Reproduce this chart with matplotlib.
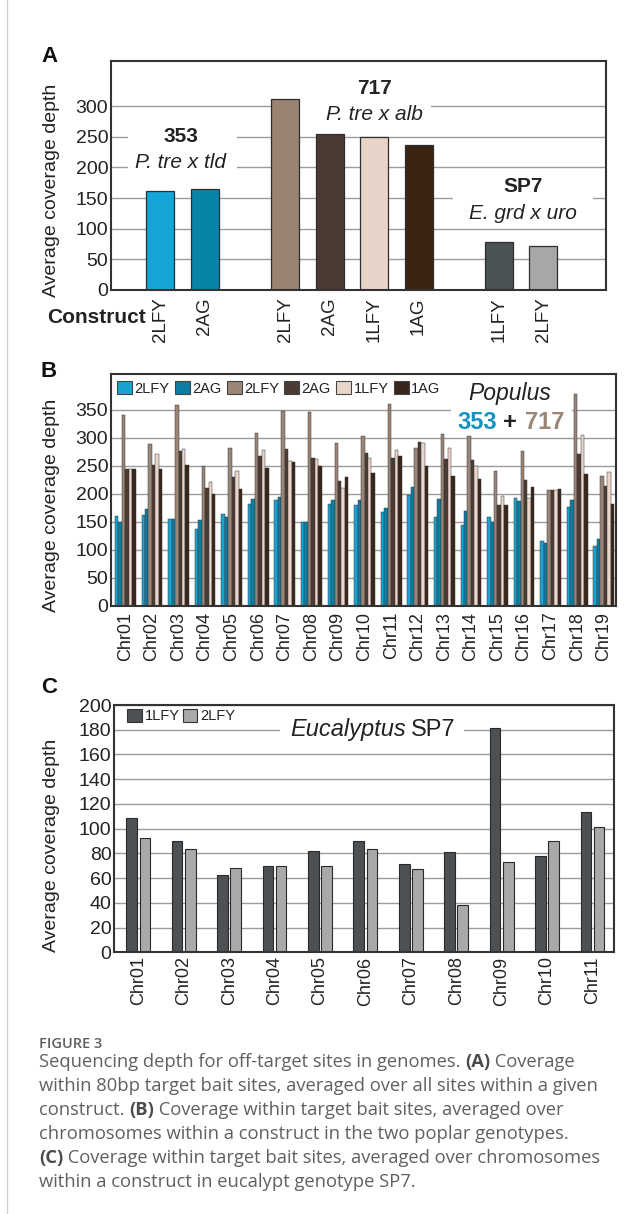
import numpy as np
import matplotlib
matplotlib.use('Agg')
from matplotlib import pyplot as plt
from matplotlib.patches import Patch, Rectangle

plt.rcParams['font.family'] = ['Liberation Sans', 'DejaVu Sans']

# ---- panel A: average depth per construct ----
a_groups = ['353', '353', '717', '717', '717', '717', 'SP7', 'SP7']
a_constructs = ['2LFY', '2AG', '2LFY', '2AG', '1LFY', '1AG', '1LFY', '2LFY']
a_depth = [161, 164, 312, 254, 249, 236, 78, 72]
a_colors = ['#14a6d6', '#0884a8', '#9a8373', '#4a3a31', '#e8d3c9', '#3a2414',
            '#4b5254', '#a7a7aa']

# ---- panel B: Populus, per chromosome ----
b_chroms = ['Chr%02d' % i for i in range(1, 20)]
b_labels = ['2LFY', '2AG', '2LFY', '2AG', '1LFY', '1AG']
b_353_2lfy = [160, 162, 155, 136, 163, 182, 189, 150, 181, 180, 168, 197, 158, 144, 158, 193, 115, 177, 107]
b_353_2ag = [150, 173, 154, 153, 159, 191, 194, 149, 188, 188, 174, 212, 191, 169, 149, 187, 112, 189, 119]
b_717_2lfy = [340, 289, 358, 250, 282, 308, 347, 346, 290, 304, 361, 281, 306, 303, 241, 277, 207, 379, 231]
b_717_2ag = [244, 252, 277, 210, 230, 268, 280, 264, 223, 272, 264, 293, 262, 260, 179, 224, 206, 271, 213]
b_717_1lfy = [245, 271, 280, 220, 241, 278, 259, 262, 210, 264, 278, 290, 281, 249, 196, 193, 207, 305, 238]
b_717_1ag = [244, 245, 252, 200, 208, 246, 257, 250, 229, 237, 268, 250, 231, 226, 179, 212, 209, 235, 182]
b_colors = ['#1aa3d1', '#0b7fa3', '#9a8577', '#4b3c33', '#ead5ca', '#38261a']

# ---- panel C: Eucalyptus SP7 ----
c_chroms = ['Chr%02d' % i for i in range(1, 12)]
c_1lfy = [109, 90, 62.5, 70, 82, 90, 71.5, 81, 181, 77.5, 113.5]
c_2lfy = [92.5, 83.5, 68.5, 70, 70, 83.5, 67, 38.5, 73, 90, 101.5]
c_colors = ['#4d5154', '#a9a9ac']

W, H = 644, 1214
GRID = '#9c9c9c'
SPINE = '#333333'


def px_axes(left, top, right, bottom):
    return fig.add_axes([left / W, 1 - bottom / H, (right - left) / W, (bottom - top) / H])


def style_axes(ax):
    ax.set_axisbelow(True)
    ax.yaxis.grid(True, color=GRID, linewidth=1.0)
    for s in ax.spines.values():
        s.set_color(SPINE)
        s.set_linewidth(1.5)
    ax.tick_params(axis='both', length=0, labelsize=14, colors='#222222')
    ax.tick_params(axis='y', pad=2)


def white_box(ax, x0, y0, x1, y1):
    ax.add_patch(Rectangle((x0, y0), x1 - x0, y1 - y0, transform=ax.transAxes,
                           facecolor='white', edgecolor='none', zorder=1))


fig = plt.figure(figsize=(W / 100, H / 100), dpi=100)
fig.add_artist(plt.Line2D([6.5 / W, 6.5 / W], [0, 1], color='#d2d2d2', linewidth=1.0))

# ================= A =================
ax = px_axes(111, 60.7, 606, 290)
style_axes(ax)
pos = []
x = 0.0
for i, g in enumerate(a_groups):
    if i > 0:
        x += 1.0 if g == a_groups[i - 1] else 1.8
    pos.append(x)
ax.bar(pos, a_depth, 0.63, color=a_colors, edgecolor='#2e2e2e', linewidth=0.9, zorder=2)
ax.set_xlim(-1.11, 10.01)
ax.set_ylim(0, 374)
ax.set_yticks(range(0, 301, 50))
ax.set_xticks(pos)
ax.set_xticklabels(a_constructs, rotation=90, fontsize=13.5)
ax.tick_params(axis='x', pad=5.5)
ax.set_ylabel('Average coverage depth', fontsize=14, color='#222222')
ax.yaxis.set_label_coords(-0.104, 0.434)
ax.text(0.0707, -0.118, 'Construct', transform=ax.transAxes, ha='right', va='center',
        fontsize=15, fontweight='bold', color='#222222')

white_box(ax, 0.034, 0.480, 0.255, 0.741)
white_box(ax, 0.382, 0.720, 0.646, 0.829)
white_box(ax, 0.691, 0.283, 0.974, 0.515)
ax.text(0.141, 0.644, '353', transform=ax.transAxes, ha='center', va='baseline',
        fontsize=15, fontweight='bold', color='#222222', zorder=3)
ax.text(0.141, 0.533, 'P. tre x tld', transform=ax.transAxes, ha='center', va='baseline',
        fontsize=15, style='italic', color='#222222', zorder=3)
ax.text(0.533, 0.855, '717', transform=ax.transAxes, ha='center', va='baseline',
        fontsize=15, fontweight='bold', color='#222222', zorder=3)
ax.text(0.533, 0.741, 'P. tre x alb', transform=ax.transAxes, ha='center', va='baseline',
        fontsize=15, style='italic', color='#222222', zorder=3)
ax.text(0.832, 0.426, 'SP7', transform=ax.transAxes, ha='center', va='baseline',
        fontsize=15, fontweight='bold', color='#222222', zorder=3)
ax.text(0.832, 0.310, 'E. grd x uro', transform=ax.transAxes, ha='center', va='baseline',
        fontsize=15, style='italic', color='#222222', zorder=3)

# ================= B =================
ax = px_axes(111, 374, 616, 605.5)
style_axes(ax)
xb = np.arange(len(b_chroms))
w = 0.13
b_vals = [b_353_2lfy, b_353_2ag, b_717_2lfy, b_717_2ag, b_717_1lfy, b_717_1ag]
for k, (vals, col) in enumerate(zip(b_vals, b_colors)):
    ax.bar(xb + (k - 2.5) * w, vals, w, color=col, edgecolor='#3a3a3a', linewidth=0.35, zorder=2)
ax.set_xlim(-0.54, len(b_chroms) - 0.54)
ax.set_ylim(0, 414)
ax.set_yticks(range(0, 351, 50))
ax.set_xticks(xb)
ax.set_xticklabels(b_chroms, rotation=90, fontsize=13)
ax.tick_params(axis='x', pad=4.5)
ax.set_ylabel('Average coverage depth', fontsize=14, color='#222222')
ax.yaxis.set_label_coords(-0.1016, 0.434)
handles = [Patch(facecolor=c, edgecolor='#444444', linewidth=0.8) for c in b_colors]
leg = ax.legend(handles, b_labels, ncol=6, loc='upper left', bbox_to_anchor=(0.012, 0.97),
                frameon=False, fontsize=10.5, handlelength=1.05, handleheight=1.05,
                handletextpad=0.15, columnspacing=0.35, borderpad=0, borderaxespad=0)
for t in leg.get_texts():
    t.set_color('#222222')
white_box(ax, 0.673, 0.749, 0.913, 0.888)
ax.text(0.790, 0.888, 'Populus', transform=ax.transAxes, ha='center', va='baseline',
        fontsize=16.5, style='italic', color='#222222', zorder=3)
ax.text(0.764, 0.762, '353', transform=ax.transAxes, ha='right', va='baseline',
        fontsize=17, fontweight='bold', color='#1592bd', zorder=3)
ax.text(0.790, 0.762, '+', transform=ax.transAxes, ha='center', va='baseline',
        fontsize=17, fontweight='bold', color='#222222', zorder=3)
ax.text(0.820, 0.762, '717', transform=ax.transAxes, ha='left', va='baseline',
        fontsize=17, fontweight='bold', color='#9a8577', zorder=3)

# ================= C =================
ax = px_axes(114.4, 705, 614, 952.3)
style_axes(ax)
xc = np.arange(len(c_chroms))
ax.bar(xc - 0.145, c_1lfy, 0.236, color=c_colors[0], edgecolor='#2a2a2a', linewidth=0.8, zorder=2)
ax.bar(xc + 0.145, c_2lfy, 0.236, color=c_colors[1], edgecolor='#2a2a2a', linewidth=0.8, zorder=2)
ax.set_xlim(-0.526, len(c_chroms) - 0.526)
ax.set_ylim(0, 200)
ax.set_yticks(range(0, 201, 20))
ax.set_xticks(xc)
ax.set_xticklabels(c_chroms, rotation=90, fontsize=13)
ax.tick_params(axis='x', pad=3)
ax.set_ylabel('Average coverage depth', fontsize=14, color='#222222')
ax.yaxis.set_label_coords(-0.1095, 0.434)
handles = [Patch(facecolor=c, edgecolor='#333333', linewidth=0.8) for c in c_colors]
leg = ax.legend(handles, ['1LFY', '2LFY'], ncol=2, loc='upper left', bbox_to_anchor=(0.026, 0.984),
                frameon=False, fontsize=10.5, handlelength=1.0, handleheight=1.0,
                handletextpad=0.2, columnspacing=0.2, borderpad=0, borderaxespad=0)
for t in leg.get_texts():
    t.set_color('#222222')
white_box(ax, 0.331, 0.850, 0.700, 0.948)
ax.text(0.583, 0.876, 'Eucalyptus', transform=ax.transAxes, ha='right', va='baseline',
        fontsize=17, style='italic', color='#222222', zorder=3)
ax.text(0.593, 0.876, 'SP7', transform=ax.transAxes, ha='left', va='baseline',
        fontsize=17, color='#222222', zorder=3)

# panel letters
for letter, base in [('A', 62), ('B', 377), ('C', 693)]:
    fig.text(41 / W, 1 - base / H, letter, fontsize=16, fontweight='bold', color='#111111',
             va='baseline', ha='left')

# ================= caption =================
renderer = fig.canvas.get_renderer()
cap_kw = dict(fontsize=13.2, family=['Open Sans', 'DejaVu Sans'], va='baseline', ha='left')


def text_w(s, weight):
    t = fig.text(0, 0, '|' + s + '|', fontweight=weight, **cap_kw)
    w1 = t.get_window_extent(renderer).width
    t.remove()
    t = fig.text(0, 0, '||', fontweight=weight, **cap_kw)
    w2 = t.get_window_extent(renderer).width
    t.remove()
    return w1 - w2


def draw_runs(x0, base, runs):
    x = x0
    for s, weight in runs:
        col = '#4b4b4b' if weight == 'bold' else '#606060'
        fig.text(x / W, 1 - base / H, s, fontweight=weight, color=col, **cap_kw)
        x += text_w(s, weight)


fig.text(39 / W, 1 - 1048 / H, 'FIGURE 3', fontsize=10.5, fontweight='semibold',
         family=['Open Sans', 'DejaVu Sans'], color='#5e5e5e', va='baseline')
caption = [
    [('Sequencing depth for off-target sites in genomes. ', 'normal'), ('(A)', 'bold'), (' Coverage', 'normal')],
    [('within 80bp target bait sites, averaged over all sites within a given', 'normal')],
    [('construct. ', 'normal'), ('(B)', 'bold'), (' Coverage within target bait sites, averaged over', 'normal')],
    [('chromosomes within a construct in the two poplar genotypes.', 'normal')],
    [('(C)', 'bold'), (' Coverage within target bait sites, averaged over chromosomes', 'normal')],
    [('within a construct in eucalypt genotype SP7.', 'normal')],
]
for i, runs in enumerate(caption):
    draw_runs(39, 1067 + 24 * i, runs)

fig.savefig('out.png', dpi=100)
